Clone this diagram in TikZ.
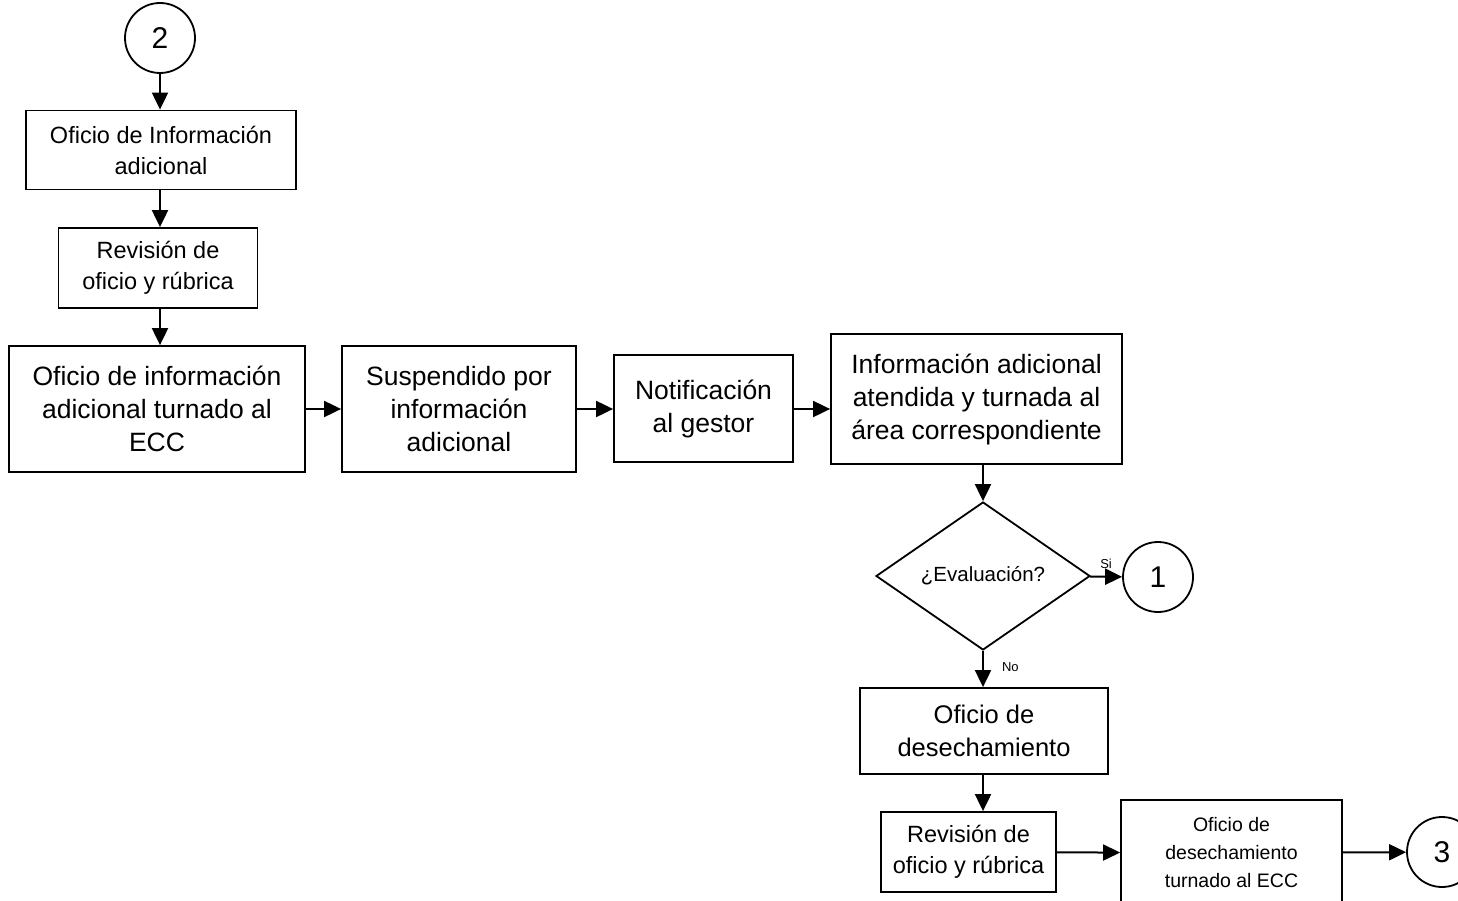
\documentclass[tikz,border=0pt]{standalone}
\usepackage{fontspec}
\setmainfont{Liberation Sans}
\usetikzlibrary{arrows.meta,shapes.geometric}
\newcommand{\drawbox}{\node[procbox]}
\newcommand{\drawcirc}{\node[connector]}
\newcommand{\drawdiam}{\node[decision]}
\newcommand{\arr}{\draw[flowarr]}
\newcommand{\lrgtxt}{\fontsize{26.5}{33}\selectfont}
\newcommand{\medtxt}{\fontsize{23.5}{31}\selectfont}
\newcommand{\smltxt}{\fontsize{19.5}{28}\selectfont}
\tikzset{
  procbox/.style={draw, line width=1.8pt, rectangle, align=center, inner sep=0pt, font=\lrgtxt},
  connector/.style={draw, line width=1.8pt, circle, minimum size=70pt, inner sep=0pt, font=\fontsize{30}{32}\selectfont},
  decision/.style={draw, line width=1.8pt, diamond, aspect=1.45, inner sep=0pt, font=\fontsize{20.5}{24}\selectfont},
  flowarr/.style={line width=2pt, -{Triangle[length=17pt,width=16pt]}},
  tag/.style={font=\fontsize{13}{15}\selectfont, inner sep=1pt}
}
\begin{document}
\begin{tikzpicture}[x=1pt, y=-1pt]
\useasboundingbox (0,0) rectangle (1458,901);
%left column
\drawcirc (c2) at (160,38) {2};
\drawbox[font=\medtxt, minimum width=270pt, minimum height=79pt] (ofinfo) at (161,150) {Oficio de Información\\ adicional};
\drawbox[font=\medtxt, minimum width=199pt, minimum height=80pt] (rev1) at (158,268) {Revisión de\\ oficio y rúbrica};
\drawbox[minimum width=296pt, minimum height=126pt] (turn1) at (157,409) {Oficio de información\\ adicional turnado al\\ ECC};

%row
\drawbox[minimum width=234pt, minimum height=126pt] (susp) at (459,409) {Suspendido por\\ información\\ adicional};
\drawbox[minimum width=179pt, minimum height=107pt] (notif) at (703.5,408.5) {Notificación\\ al gestor};
\drawbox[minimum width=291pt, minimum height=130pt] (atend) at (976.5,399) {Información adicional\\ atendida y turnada al\\ área correspondiente};

%decision
\drawdiam[minimum width=214pt, minimum height=148pt] (eval) at (983,576) {¿Evaluación?};
\drawcirc (c1) at (1158,577) {1};
\drawbox[font=\fontsize{25.5}{33}\selectfont, minimum width=248pt, minimum height=86pt] (desech) at (984,731) {Oficio de\\ desechamiento};
\drawbox[font=\medtxt, minimum width=175pt, minimum height=80pt] (rev2) at (968.5,852) {Revisión de\\ oficio y rúbrica};
\drawbox[font=\smltxt, minimum width=221pt, minimum height=106pt] (turn2) at (1231.5,853) {Oficio de\\ desechamiento\\ turnado al ECC};
\drawcirc (c3) at (1442,852) {3};

\arr (c2) to (c2 |- ofinfo.north);
\arr (c2 |- ofinfo.south) to (c2 |- rev1.north);
\arr (c2 |- rev1.south) to (c2 |- turn1.north);
\arr (turn1) to (susp);
\arr (susp) to (notif.west |- susp);
\arr (notif.east |- susp) to (atend.west |- susp);
\arr (eval |- atend.south) to (eval.north);
\arr (eval) to node [tag, above=6pt, pos=0.5] {Si} (c1);
\arr (eval) to node [tag, right, pos=0.45, xshift=17pt] {No} (eval |- desech.north);
\arr (eval |- desech.south) to (eval |- rev2.north);
\arr (rev2) to (turn2);
\arr (turn2) to (c3);
\end{tikzpicture}
\end{document}
